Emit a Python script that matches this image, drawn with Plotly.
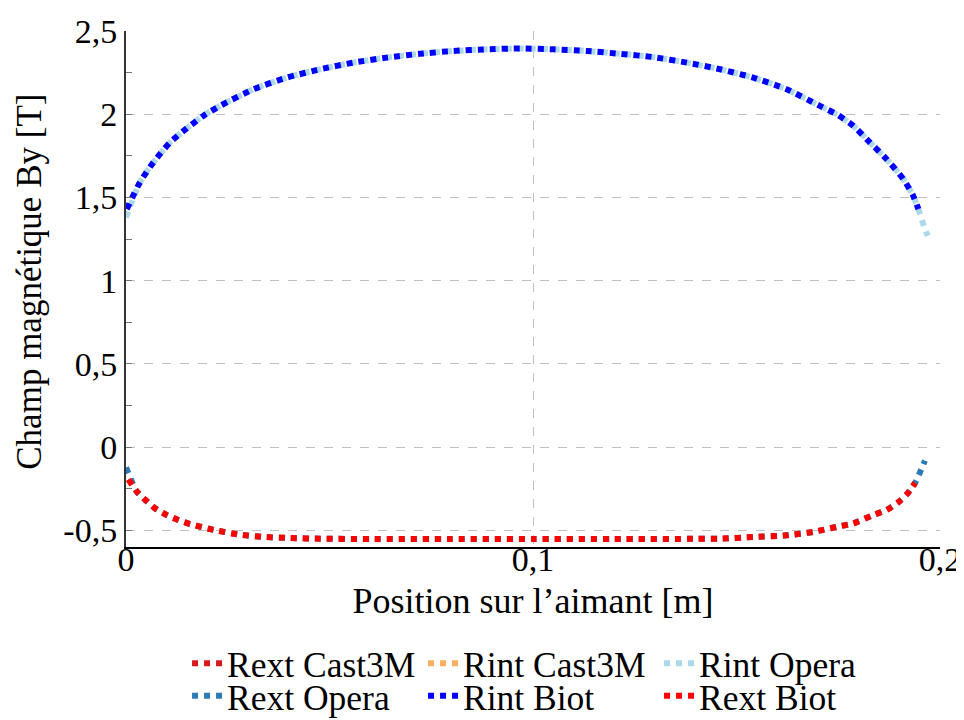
import plotly.graph_objects as go

# Rint curves (upper)
rint_biot_x = [0.0002, 0.0034, 0.0067, 0.0108, 0.0149, 0.019, 0.0231, 0.0313, 0.0395, 0.0477,
               0.0558, 0.064, 0.0722, 0.0804, 0.0886, 0.0968, 0.105, 0.1132, 0.1214, 0.1296,
               0.1378, 0.146, 0.1541, 0.1623, 0.1705, 0.1746, 0.1787, 0.1828, 0.1869, 0.191,
               0.1934, 0.1947]
rint_biot_y = [1.43, 1.59, 1.71, 1.83, 1.915, 1.99, 2.05, 2.15, 2.22, 2.27,
               2.31, 2.34, 2.363, 2.38, 2.39, 2.395, 2.39, 2.38, 2.363, 2.343,
               2.31, 2.27, 2.22, 2.15, 2.05, 2.0, 1.93, 1.83, 1.73, 1.61,
               1.51, 1.43]
rint_opera_x = [0.0, 0.0034, 0.0067, 0.0108, 0.0149, 0.019, 0.0231, 0.0313, 0.0395, 0.0477,
                0.0558, 0.064, 0.0722, 0.0804, 0.0886, 0.0968, 0.105, 0.1132, 0.1214, 0.1296,
                0.1378, 0.146, 0.1541, 0.1623, 0.1705, 0.1746, 0.1787, 0.1828, 0.1869, 0.191,
                0.1934, 0.1947, 0.1963, 0.197]
rint_opera_y = [1.38, 1.59, 1.71, 1.83, 1.915, 1.99, 2.05, 2.15, 2.22, 2.27,
                2.31, 2.34, 2.363, 2.38, 2.39, 2.395, 2.39, 2.38, 2.363, 2.343,
                2.31, 2.27, 2.22, 2.15, 2.05, 2.0, 1.93, 1.83, 1.73, 1.61,
                1.51, 1.43, 1.31, 1.27]

# Rext curves (lower)
rext_biot_x = [0.0006, 0.0026, 0.0047, 0.0071, 0.01, 0.0129, 0.0157, 0.0219, 0.028, 0.0342,
               0.0403, 0.0477, 0.06, 0.08, 0.1, 0.12, 0.14, 0.146, 0.1541, 0.1623,
               0.1689, 0.1746, 0.1787, 0.1836, 0.1869, 0.1898, 0.1918, 0.1939]
rext_biot_y = [-0.194, -0.265, -0.316, -0.367, -0.408, -0.438, -0.462, -0.499, -0.526, -0.54,
               -0.546, -0.55, -0.552, -0.552, -0.552, -0.552, -0.551, -0.55, -0.54, -0.53,
               -0.509, -0.479, -0.458, -0.408, -0.377, -0.33, -0.285, -0.214]
rext_opera_x = [0.0, 0.0026, 0.0047, 0.0071, 0.01, 0.0129, 0.0157, 0.0219, 0.028, 0.0342,
                0.0403, 0.0477, 0.06, 0.08, 0.1, 0.12, 0.14, 0.146, 0.1541, 0.1623,
                0.1689, 0.1746, 0.1787, 0.1836, 0.1869, 0.1898, 0.1918, 0.1939, 0.1963]
rext_opera_y = [-0.122, -0.265, -0.316, -0.367, -0.408, -0.438, -0.462, -0.499, -0.526, -0.54,
                -0.546, -0.55, -0.552, -0.552, -0.552, -0.552, -0.551, -0.55, -0.54, -0.53,
                -0.509, -0.479, -0.458, -0.408, -0.377, -0.33, -0.285, -0.214, -0.081]

# Cast3M curves are hidden under the others in the figure
rext_cast_x, rext_cast_y = [], []
rint_cast_x, rint_cast_y = [], []

x_ticks = [0, 0.1, 0.2]
x_ticklabels = ["0", "0,1", "0,2"]
y_ticks = [-0.5, 0, 0.5, 1, 1.5, 2, 2.5]
y_ticklabels = ["-0,5", "0", "0,5", "1", "1,5", "2", "2,5"]

FONT = "Liberation Serif"

fig = go.Figure()
# (name, x, y, colour, legend row)
series = [
    ("Rext Cast3M", rext_cast_x, rext_cast_y, "#d7191c", "legend"),
    ("Rint Cast3M", rint_cast_x, rint_cast_y, "#fdae61", "legend"),
    ("Rint Opera", rint_opera_x, rint_opera_y, "#abd9e9", "legend"),
    ("Rext Opera", rext_opera_x, rext_opera_y, "#2c7bb6", "legend2"),
    ("Rint Biot", rint_biot_x, rint_biot_y, "#0000ff", "legend2"),
    ("Rext Biot", rext_biot_x, rext_biot_y, "#ff0000", "legend2"),
]
for name, xs, ys, col, leg in series:
    fig.add_trace(go.Scatter(
        x=xs if xs else [None], y=ys if ys else [None], name=name, mode="lines",
        legend=leg,
        line=dict(color=col, width=6, dash="dot", shape="spline", smoothing=0.6)))

# the page body has an 8px margin, so the figure is 8px smaller than the window
leg_style = dict(orientation="h", x=0.075, xanchor="left", yanchor="middle",
                 entrywidth=191, font=dict(size=35.5, family=FONT), tracegroupgap=0,
                 bgcolor="rgba(0,0,0,0)")
fig.update_layout(
    width=956, height=712,
    margin=dict(l=118, r=24, t=23, b=173, autoexpand=False),
    plot_bgcolor="white", paper_bgcolor="white",
    font=dict(family=FONT, size=34, color="black"),
    legend=dict(leg_style, y=-0.226),
    legend2=dict(leg_style, y=-0.289),
)
# y title as an annotation so it can sit closer to the page edge
fig.add_annotation(text="Champ magnétique By [T]", textangle=-90,
                   xref="paper", yref="paper", x=-0.118, y=0.514,
                   xanchor="center", yanchor="middle", showarrow=False,
                   font=dict(size=35, family=FONT, color="black"))

fig.update_xaxes(
    range=[0, 0.2], tickvals=x_ticks, ticktext=x_ticklabels, automargin=False,
    title=dict(text="Position sur l’aimant [m]", standoff=11, font=dict(size=36)),
    showgrid=True, gridcolor="#c0c0c0", griddash="dash", gridwidth=1,
    showline=True, linecolor="black", linewidth=2, zeroline=False,
    ticks="", ticklen=0, ticklabelstandoff=-19, tickfont=dict(size=34),
)
fig.update_yaxes(
    range=[-0.6, 2.5], tickvals=y_ticks, ticktext=y_ticklabels, automargin=False,
    showgrid=True, gridcolor="#c0c0c0", griddash="dash", gridwidth=1,
    showline=True, linecolor="#333", linewidth=2, zeroline=False,
    ticks="inside", ticklen=6, tickcolor="#777",
    minor=dict(dtick=0.25, tick0=0, ticks="inside", ticklen=6, tickcolor="#777", showgrid=False),
    tickfont=dict(size=34),
)

fig.write_html("out.html")
